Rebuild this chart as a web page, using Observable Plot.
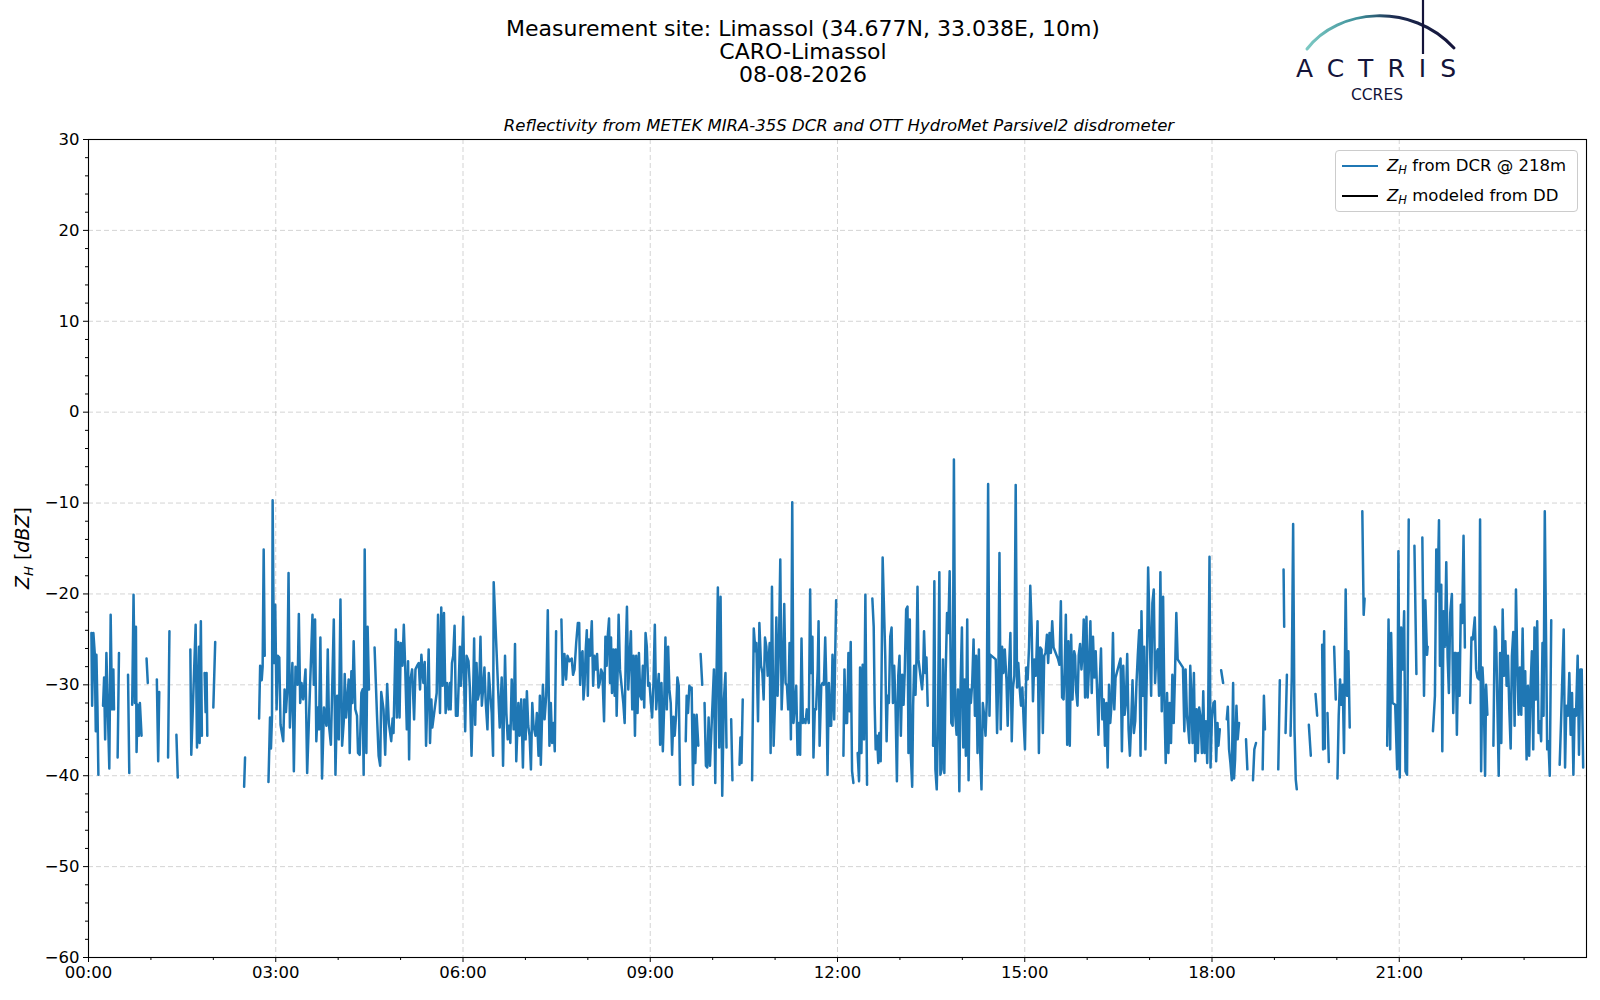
<!DOCTYPE html>
<html>
<head>
<meta charset="utf-8">
<script src="https://cdn.jsdelivr.net/npm/d3@7"></script>
<script src="https://cdn.jsdelivr.net/npm/@observablehq/plot@0.6"></script>
<style>
  html, body { margin: 0; padding: 0; background: #fff; }
  #page { position: relative; width: 1600px; height: 1000px; overflow: hidden; font-family: "DejaVu Sans", sans-serif; color: #000; }
  #header { position: relative; width: 1600px; height: 134px; }
  .tline { position: absolute; left: 0; width: 1606px; text-align: center; font-size: 22px; line-height: 22px; white-space: nowrap; }
  #subtitle { position: absolute; left: 0; width: 1678px; top: 117px; text-align: center; font-size: 16.5px; line-height: 18px; font-style: italic; white-space: nowrap; }
  #ylabel { position: absolute; left: 23px; top: 548px; transform: translate(-50%, -50%) rotate(-90deg); font-size: 19px; white-space: nowrap; }
  #ylabel sub { font-size: 13px; vertical-align: -4px; }
  #legend { position: absolute; left: 1335px; top: 150px; width: 243px; height: 62px; box-sizing: border-box; border: 1px solid #cccccc; border-radius: 4px; background: rgba(255,255,255,0.85); font-size: 16.5px; }
  .lrow { position: absolute; left: 0; height: 20px; white-space: nowrap; }
  .lrow .sw { position: absolute; left: 6px; top: 9px; width: 36px; height: 2.4px; }
  .lrow .lt { position: absolute; left: 51px; top: 0; line-height: 20px; }
  .lrow sub { font-size: 11.5px; vertical-align: -3px; }
  #logo { position: absolute; left: 1290px; top: 0; }
</style>
</head>
<body>
<div id="page">
  <div id="header"></div>
  <div id="chart"></div>
</div>
<script>
// ---------------- data ----------------
const titleLines = ["Measurement site: Limassol (34.677N, 33.038E, 10m)", "CARO-Limassol", "08-08-2026"];
const subtitle = "Reflectivity from METEK MIRA-35S DCR and OTT HydroMet Parsivel2 disdrometer";
const legendLabels = ["from DCR @ 218m", "modeled from DD"];
const seriesColors = ["#1f77b4", "#000000"];
const yTicks = [-60, -50, -40, -30, -20, -10, 0, 10, 20, 30];
const yMinorTicks = [-58,-56,-54,-52,-48,-46,-44,-42,-38,-36,-34,-32,-28,-26,-24,-22,-18,-16,-14,-12,-8,-6,-4,-2,2,4,6,8,12,14,16,18,22,24,26,28];
const xTickHours = [0, 3, 6, 9, 12, 15, 18, 21];
const xMinorHours = [1, 2, 4, 5, 7, 8, 10, 11, 13, 14, 16, 17, 19, 20, 22, 23];
const dayStart = Date.UTC(2026, 7, 8);

// Z_H from DCR @ 218m : [minutes after 00:00 UTC, dBZ]; null marks a gap
const zhDcr = [
  [2.8,-24.3],[3.5,-32.3],[4.7,-24.3],[6,-26.5],[7,-35.1],[7.6,-26.7],[8.6,-32.3],[9.5,-39.9],null,
  [14,-32.3],[15,-29.2],[16,-36],[17.2,-26.5],[20,-39.2],[21.3,-22.3],[22.6,-32.7],[23.9,-28.3],[24.5,-32.7],null,
  [28,-38],[29.3,-26.5],null,
  [38,-28.9],[39.2,-39.7],null,
  [42,-32.2],[43.3,-20.1],[44.6,-32],[45.6,-23.6],[46.2,-37.4],[47.2,-32.2],[48.4,-35.6],[49.4,-32],[51,-35.6],null,
  [55.8,-27.1],[57,-29.8],null,
  [65.7,-29.4],[67,-38.4],[68,-30.8],null,
  [76.5,-38],[77.8,-24.1],null,
  [84.5,-35.5],[85.8,-40.2],null,
  [97.9,-26.1],[98.8,-37.7],[103,-23.4],[104.3,-36.9],[106.2,-25.8],[106.8,-36.4],[108,-23],[109,-35.6],null,
  [111.6,-28.7],[112.6,-33],[113.5,-28.7],[114.2,-35.6],null,
  [120,-32.5],[121.8,-25.3],null,
  [149.6,-41.2],[150.5,-38],null,
  [164,-33.7],[165,-27.9],[166.5,-29.5],[167.4,-28],[168.4,-15.1],[169.4,-26.8],null,
  [173,-40.7],[174.5,-33.6],[175.4,-37],[176.4,-33.5],[177,-9.7],[178.3,-27.6],[179.5,-21.2],[180.8,-32.7],[182,-26.8],[183.4,-27],
  [184.6,-34.4],[187.2,-36.2],[188.5,-30.5],[189.8,-33],[191,-30.7],[192.3,-17.7],[193.6,-34.7],[196,-27.6],[197.4,-39.5],[199,-28],
  [201,-30],[202.2,-22.2],[203.5,-32],[204.8,-29.8],[206.4,-31.6],[208.6,-28.3],[210.2,-39.7],[215.3,-22.3],[216.6,-30],[217.8,-22.8],
  [219,-36.2],[220.4,-32.5],[221.6,-34.9],[222.9,-24.8],[224.5,-40.3],[226.4,-32.5],[228.7,-34.5],[230,-26.1],[231.2,-34.5],[233,-36.6],
  [235.8,-22.8],[237.4,-39.9],[239,-31.2],[240.6,-36],[242.2,-20.6],[243.8,-36.7],[245.4,-34],[246.3,-28.8],[247.6,-33.6],[250.1,-29.4],
  [251.1,-37.5],[252.7,-28.5],[253.7,-32],[254.9,-25.2],[256.5,-32.7],[258.1,-33.4],[259.1,-37.5],[260.7,-37.7],[262.3,-30.9],[263.5,-30.5],
  [264.5,-39.9],[265.5,-15.1],[267.1,-37.5],[268.3,-23.6],[269.6,-30.5],null,
  [275,-25.9],[277.3,-33.3],[278.9,-37.8],[280.4,-38.9],[281.4,-30.8],[283.6,-32.7],[285.2,-37.7],[287.1,-29.9],[288.7,-34.2],[291,-36.2],
  [292.3,-33.7],[293.2,-35.3],[295.4,-23.9],[296.4,-33.6],[297.7,-25.3],[299,-33.6],[300.2,-25.4],[301.8,-27.9],[303.1,-23.4],[304.4,-27.9],
  [306,-34.9],[307.2,-27.4],[308.2,-38.2],[309.2,-29.6],[311.1,-28.3],[313,-33.8],[314.3,-28.3],[315.9,-27.9],[317.5,-27.6],[318.7,-30.5],
  [320,-26.7],[321.9,-29.8],[323.2,-27.5],[324.5,-36.7],[325.7,-31.6],[327,-26.1],[328.3,-36.4],[329.6,-31.6],[330.5,-34.7],[334.7,-30.9],
  [336,-22.3],[337.9,-33.1],[339.1,-21.5],[340.4,-30.1],[341.7,-22.1],[343.3,-33.1],[344.6,-29.8],[346.2,-32.7],[347.4,-29.8],[348.1,-32.7],
  [349.4,-27.6],[350.6,-26.8],[351.9,-23.5],[353.2,-33.4],[354.8,-33.4],[356.1,-29],[357,-25.8],[358,-30.1],[358.9,-27.8],[360.2,-22.5],
  [361.2,-30.1],[362.1,-35.1],[363.4,-26.8],[365.3,-27.4],[366.6,-30.3],[368.2,-37.8],[369.8,-30.5],[370.7,-24.9],[371.7,-34.4],[373,-27.6],
  [374.2,-31.6],[375.5,-30.9],[376.8,-24.7],[378.1,-32.3],[379.3,-30.5],[380.6,-28.1],[381.9,-32],[383.5,-34.9],[384.8,-28.7],[386.4,-31.2],
  [387.6,-33.1],[388.9,-37.8],[389.5,-18.7],[395.3,-34.7],[397.2,-29.2],[398.5,-38.9],[400.4,-26.8],[401.7,-33.1],[403,-36],[404.2,-34.5],
  [405.5,-36.4],[406.8,-29.4],[408.7,-34.9],[410,-25.5],[411.2,-38.4],[413.2,-32],[414.4,-35.6],[416,-31.6],[417.6,-39.1],[418.9,-31.6],
  [420.2,-36],[421.4,-30.7],[422.7,-34.5],[424,-35.6],[425.3,-39.3],[426.6,-32],[427.8,-34.5],[429.7,-35.6],[431,-33.1],[432.6,-37.8],
  [433.9,-31.2],[434.8,-38.8],[436.8,-30],[438.4,-33.8],[440,-31.2],[441.5,-21.8],[443.1,-36.7],[444.4,-32],[445.7,-36.4],[447,-34.2],
  [448.2,-37.3],[449.5,-24.1],null,
  [454.6,-22.8],[455.9,-30],[457.5,-26.6],[459.1,-29.4],[460.4,-26.8],[462.3,-27.4],[464.5,-27.1],[465.8,-28.9],
  [467.2,-28.3],[468.8,-25.4],[470.4,-23.2],[471.7,-23.2],[472.6,-30],[473.6,-26.8],[474.9,-26.3],[475.8,-31.6],[476.8,-30.1],[478,-26.1],
  [479,-24],[480,-31.2],[480.9,-25],[482.2,-26.8],[483.8,-23],[485.1,-30.1],[486.3,-26.8],[487.6,-28.3],[488.9,-26.6],[490.2,-30.3],
  [491.4,-29.8],[492.7,-28.3],[494,-28.7],[495.6,-34],[496.9,-24.7],[498.1,-27.9],[499.1,-24.7],[500.4,-22.7],[501.3,-29.8],[502.3,-24.8],
  [503.2,-30.9],[504.5,-26.1],[505.8,-31.2],[506.8,-26.1],[507.7,-33.4],[508.7,-28.3],[509.6,-22.3],[510.9,-28.3],[514.1,-32],[515.4,-34.2],
  [516.6,-25.8],[517.6,-21.4],[518.9,-30.5],[520.2,-26.8],[521.4,-24.1],[522.7,-32.7],[524,-26.8],[525.3,-35.6],[526.5,-26.8],[527.8,-33.1],
  [529.1,-26.5],[530.4,-31.2],[531.6,-31.6],[532.9,-27.9],[534.2,-32.5],[535.5,-24.3],[536.7,-25.8],[538,-30.1],[539.3,-29.8],[540.6,-32],
  [541.8,-33.6],[543.1,-29.8],[544.4,-23.4],[545.7,-32.7],[547,-30.5],[548.2,-28.8],[549.5,-36.6],[550.8,-29.8],[552.1,-37.3],[553.3,-32.7],
  [554.6,-24.8],[555.9,-32.7],[557.2,-25.8],[558.4,-30.5],[559.7,-32],[561,-37.7],[562.3,-33.5],[563.5,-35.6],[564.8,-33.4],[566.1,-29.2],
  [567.4,-30.1],[568.6,-41],null,
  [574.1,-36.2],[575,-31.2],[576.3,-33.1],[577.6,-30.1],[578.9,-30.5],[579.8,-30.3],[581.1,-41],[582,-33.3],[583.3,-38.6],[584.6,-33.3],[586.2,-36.7],null,
  [588.4,-26.6],[590,-30],null,
  [592.2,-32],[593.5,-38.9],[594.8,-39.1],[596.1,-33.6],[597.4,-38.9],[601.2,-28.3],[602.5,-40.8],[603.7,-29],[605,-19.3],[606.3,-36.9],
  [607.6,-20.3],[609.2,-42.2],[610.8,-31.6],[612.3,-28.7],[613.3,-36.9],null,
  [617.8,-33.8],[619,-40.5],null,
  [625.8,-38.8],[626.7,-35.8],[627.7,-38.6],[628.9,-31.6],null,
  [637.9,-40.5],[639.5,-23.8],[641.1,-26.3],[642,-25.4],[643.6,-34],[644.9,-23.2],[646.5,-27.9],[647.8,-28.7],[649,-31.6],[650.3,-24.8],
  [651.6,-25.8],[652.9,-29],[654.8,-25.4],[655.7,-37.5],[657,-19.2],[658.6,-36.7],[659.9,-32],[661.2,-22.6],[662.4,-31.2],[663.7,-25.8],
  [665,-16.2],[666.3,-32.7],[667.5,-29],[668.8,-21.1],[670.1,-29.8],[671.4,-30.1],[672.6,-32.7],[673.9,-25.4],[675.2,-36],[676.5,-9.9],
  [677.7,-34.2],[679,-32.3],[680.3,-30.1],[681.6,-37.7],[682.8,-34.2],[684.1,-37.7],[685.4,-24.9],[686.7,-34.2],[688,-33.8],[689.2,-34.2],
  [690.5,-32.7],[692.4,-34.2],[693.7,-19.5],[694.6,-28.7],[695.9,-24.7],[696.9,-38],[698.2,-32.7],[699.4,-32.7],[701,-28.3],
  [701.8,-23],[702.8,-36.7],[704.4,-30.1],[705.6,-29.8],[706.9,-30],[708.2,-24.8],[709.5,-30.9],[710.4,-39.9],[711.7,-29.8],[713,-34.5],
  [713.9,-34.5],[715.2,-26.7],[716.8,-33.8],[717.8,-26.7],[718.7,-20.7],null,
  [725.7,-37.8],[726.7,-28.3],[728,-34.2],[729.2,-34.2],[730.5,-26.5],[731.5,-32.9],[732.7,-25.3],[734,-39.5],[735.3,-40.8],null,
  [739.4,-37.5],[740.7,-40.6],[741.7,-28.1],[743,-37.5],[744.2,-27.8],[745.5,-36],[746.8,-20.1],[748.4,-41],null,
  [753.5,-20.5],[754.8,-23.6],[755.7,-32],[756.7,-37.1],[758,-35.6],[759.2,-38.6],[760.2,-35.3],[761.5,-38.4],[762.4,-28.3],[763.4,-16],
  [765.9,-26.8],[767.2,-36.2],[768.2,-31.2],[769.4,-32],[770.7,-24.7],[772,-23.7],[773.3,-32],[774.5,-27.9],[775.8,-32.3],[777.1,-40.6],
  [778.4,-29],[779.6,-26.8],[780.9,-35.6],[782.2,-28.9],[783.5,-32.2],[784.7,-28.3],[786,-21.7],[787.3,-21.4],[788.2,-37.5],[789.5,-22.8],
  [790.5,-37.7],[791.8,-41.2],[792.7,-32.3],[793.7,-27.9],[795,-31.1],[795.9,-27.2],[796.9,-19.2],[797.8,-27.2],[801.3,-30.5],[802.3,-28.7],
  [803.2,-24.1],[804.5,-28.7],[805.5,-27],[806.7,-32.3],null,
  [811.9,-36.7],[813.1,-18.6],[814.1,-39.3],[815.4,-41.5],[816.6,-34.2],[817.9,-17.6],[818.9,-39.9],[820.1,-39.3],[821.4,-27.2],[822.7,-39.7],
  [824,-28.7],[825.3,-22.1],[826.5,-24.3],[827.8,-17.5],[829.4,-34.2],[830.7,-34.5],[831.9,-5.2],[833.2,-33.4],[834.5,-35.5],[835.8,-30.5],
  [837.1,-41.7],[838.3,-30.1],[839.6,-23.7],[840.9,-36.9],[842.2,-29.4],[843.4,-37.8],[844.7,-22.8],[846,-40.5],[847,-30.5],[848.2,-32],
  [849.5,-29.8],[850.8,-25],[852.1,-33.4],[853.3,-26.8],[854.6,-37.5],[855.9,-26.1],[857.2,-37.5],[858.4,-41.5],[859.7,-32],[861,-33.4],
  [862.3,-35.6],[863.5,-31.8],[864.8,-7.9],[866.1,-33.4],[867,-26.7],[872.1,-27.2],[873.4,-35.3],[874.7,-28.3],[875.7,-15.5],[876.9,-34.9],
  [878.2,-25.8],[879.5,-28.7],[880.8,-26.1],[882.4,-29.4],[883.6,-34.5],[884.9,-28.3],[886.2,-24.3],[887.5,-36.2],[888.7,-30.3],[890,-29],
  [891.3,-8],[892.6,-30.3],[893.8,-27.6],[895.1,-30.3],[896.4,-32.3],[897.7,-30.3],[899,-34.2],[900.2,-37.1],[901.5,-28.1],[902.8,-29.4],
  [904.1,-25.9],[905.3,-19.1],[906.6,-23.6],[907.9,-31.8],[909.2,-27.2],[910.7,-29],[912.3,-23],[913.6,-37.5],[914.9,-25.9],[916.2,-26.1],
  [917.4,-35.3],[918.7,-26.8],[920,-26.5],[921.3,-24.5],[922.5,-27.6],[923.8,-24.3],[925.1,-26.5],[926.4,-23],[927.7,-25.9],[932.1,-27.2],
  [933.4,-27.8],[934.7,-20.8],[935.9,-31.4],
  [937.3,-31.6],[938.5,-27.6],[939.5,-22.3],[940.8,-36.6],[942,-25.2],[943.3,-36.7],[944.6,-24.5],[945.9,-31.6],[947.5,-26.3],[948.4,-26.8],
  [949.4,-30.7],[950.7,-32.3],[951.9,-26.7],[953.2,-25.5],[954.5,-28.3],[955.8,-26.1],[956.7,-22.8],[958,-31.4],[959.3,-22.5],[960.5,-31.4],
  [961.8,-27.9],[963.1,-23],[964.4,-30.9],[965.6,-24.7],[966.9,-29.2],[968.2,-26.3],[969.5,-30.5],[970.8,-35.5],[972,-30.1],[973.3,-26],
  [974.6,-33.8],[975.9,-31.6],[977.1,-36.7],[978.4,-32],[979.7,-39.1],[981,-30],[982.2,-34.2],[983.5,-32],[984.8,-24.3],[986.1,-32.7],
  [987.3,-29.2],[992.1,-27.1],[993.4,-37.3],[994.7,-27.9],[996,-33.3],[997.2,-32],[998.5,-26.6],[999.8,-34.9],[1001.1,-37.8],[1002.3,-34.2],
  [1003.6,-29.5],[1004.9,-35.3],[1006.2,-34],[1007.4,-29.8],[1008.7,-26.7],[1010,-24],[1011.3,-37.8],[1012.2,-21.9],[1013.5,-31.2],[1014.8,-25.8],
  [1016,-37.1],[1017.3,-29],[1018.6,-17.1],[1020.2,-24.7],[1021.5,-31.2],[1022.7,-21],[1024,-19.5],[1025.3,-29.8],[1026.6,-26.5],[1027.9,-26.1],
  [1029.1,-31.2],[1030.4,-17.6],[1031.7,-32.9],[1033,-20.3],[1034.2,-31.6],[1035.5,-38.6],[1036.8,-30.9],[1038.1,-37.5],[1039.3,-32],[1040.6,-36.4],
  [1041.9,-28.9],[1043.2,-34.2],[1044.4,-29],[1045.7,-22.1],[1047,-27.2],[1052.1,-28.1],[1053.4,-35.1],[1054.6,-28.3],[1055.9,-33.3],[1057.2,-34.9],
  [1058.2,-36.4],[1059.1,-27.9],[1060.4,-32],[1061.3,-36.4],[1062.6,-28.7],[1063.9,-38.4],[1065.2,-32.7],[1066.5,-37.5],[1067.7,-32.5],[1069,-33.6],
  [1070.3,-37.5],[1071.6,-30.7],[1072.8,-37.5],[1074.1,-34],[1075.4,-38.6],[1076.3,-33.4],[1077.6,-15.9],[1078.6,-39.1],[1079.9,-33.8],[1081.4,-32],
  [1082.7,-31.8],[1084,-38.4],[1085.3,-34.2],[1086.2,-36.7],[1087.5,-34.9],null,
  [1088.8,-28.4],[1090.7,-29.8],null,
  [1094.2,-33.8],[1095.2,-32.4],[1096.4,-37.1],[1097.7,-38.6],[1099,-40.5],[1100.3,-29.8],[1101.2,-40.3],[1102.2,-38.2],[1103.5,-32.3],[1104.7,-36],[1106,-34.2],null,
  [1112.7,-36],[1114,-39.3],null,
  [1119.4,-40.5],[1120.7,-37.1],[1122.3,-36.4],null,
  [1128.7,-39.3],[1129.9,-31.2],[1130.9,-34.9],null,
  [1143.7,-39.3],[1145.2,-29.5],null,
  [1148.8,-17.3],[1149.4,-23.6],null,
  [1150.7,-35.3],[1152,-28.9],null,
  [1155.5,-35.6],[1156.7,-29],[1158,-12.3],[1159.3,-34.9],[1160.5,-40.4],[1161.5,-41.5],null,
  [1173.1,-34.4],[1175,-37.8],null,
  [1179.5,-31],[1181.1,-33.4],null,
  [1185.9,-25.6],[1186.8,-37.1],[1187.8,-24.1],[1188.5,-37],null,
  [1191,-33.1],[1192.3,-38.5],null,
  [1197.4,-25.8],[1199,-31.6],null,
  [1200.6,-40.3],[1201.8,-33.4],[1203.1,-29.4],[1204.4,-32.2],[1205.7,-30],[1206.9,-37.5],[1208.5,-19.5],[1209.8,-31.2],[1211.1,-26.3],[1212.4,-34.7],null,
  [1224.5,-10.9],[1225.8,-22.3],[1226.7,-20.5],null,
  [1248.4,-36.7],[1249.7,-22.8],[1251.3,-37.1],[1252.2,-24.3],[1253.5,-32],[1256.1,-32.2],[1258,-39.3],[1259.2,-15.3],[1260.5,-40.2],[1261.8,-23.7],
  [1263.1,-28.3],[1264.7,-21.9],[1266,-39.5],[1267.5,-39.9],[1269.1,-11.8],null,
  [1274.6,-14.7],[1276.5,-28.8],null,
  [1282.2,-13.8],[1283.8,-31.2],[1285.1,-20.7],[1286.7,-26.7],[1287.3,-25.8],null,
  [1292.4,-35.1],[1294.3,-31.2],[1295.6,-15.1],[1296.9,-19.7],[1298.2,-11.9],[1299.1,-27.9],[1300.4,-19],[1301.4,-37.3],[1302.6,-21.9],[1303.9,-25.8],
  [1305.2,-16.5],[1306.5,-27],[1307.7,-30.9],[1309,-22.1],[1310.6,-20],[1311.9,-33.1],[1313.2,-26.5],[1314.4,-26.5],[1315.4,-35.5],[1316.7,-26.5],
  [1318,-31.2],[1319.2,-21.2],[1320.5,-23.2],[1321.8,-13.6],[1323.1,-25.9],null,
  [1328.2,-32],[1329.4,-24.8],[1330.7,-25],[1332.6,-22.6],[1333.9,-28.3],[1335.2,-29.2],[1336.8,-29.4],[1337.7,-11.8],[1338.7,-39.5],[1340,-28.1],
  [1341.2,-30.9],[1342.5,-40],[1343.5,-30],[1344.7,-33.3],null,
  [1350.5,-36.7],[1351.8,-23.6],[1353,-24],[1355.6,-40],[1356.9,-26.5],[1358.1,-36.4],[1359.4,-21.7],[1360.7,-29],[1362,-25.2],[1363.2,-30.1],
  [1364.5,-26.8],[1365.8,-32.7],[1367.1,-37],[1368.3,-26.8],[1369.6,-24.2],[1370.9,-34.5],[1372.2,-19.5],[1373.5,-27.6],[1374.7,-33.3],[1376,-28.1],
  [1377.3,-33.3],[1378.6,-23.8],[1379.8,-32.3],[1381.1,-28.5],[1382.4,-38.2],[1383.7,-30.1],[1384.9,-37.8],[1386.2,-30.3],[1387.5,-26.3],[1388.8,-37.1],
  [1390,-23.7],[1391.3,-31.6],[1392.6,-23],[1393.9,-35.3],[1395.1,-34],[1396.4,-36.2],[1397.7,-25.4],[1398.7,-33.4],[1399.9,-10.9],[1402.2,-37.1],
  [1403.4,-36.2],[1404.7,-40],[1406.1,-22.9],null,
  [1414.2,-38.8],[1415.5,-34.2],[1418.1,-23.9],[1419.4,-39.1],[1420.6,-32.3],[1422.2,-33.4],[1423.5,-28.7],[1424.8,-35.5],[1426.1,-30.9],[1427.4,-39.9],
  [1428.6,-32.7],[1429.9,-33.4],[1431.5,-26.8],[1432.8,-37.7],[1434.1,-28.3],[1435.4,-28.3],[1436.8,-39.1]
];
// Z_H modeled from disdrometer: no data on this day
const zhDd = [];

// ---------------- build ----------------
const toDate = m => new Date(dayStart + m * 60000);
const rowsDcr = [];
let lastMin = 0;
for (const p of zhDcr) {
  if (p === null) rowsDcr.push({time: toDate(lastMin + 0.05), zh: NaN});
  else { lastMin = p[0]; rowsDcr.push({time: toDate(p[0]), zh: p[1]}); }
}
const rowsDd = zhDd.map(p => ({time: toDate(p[0]), zh: p[1]}));

const header = document.getElementById("header");
const tops = [18, 41, 64];
titleLines.forEach((t, i) => {
  const d = document.createElement("div");
  d.className = "tline"; d.style.top = tops[i] + "px"; d.textContent = t;
  header.appendChild(d);
});
const st = document.createElement("div");
st.id = "subtitle"; st.textContent = subtitle; header.appendChild(st);

const hourTicks = h => h.map(x => toDate(x * 60));
const gridStyle = {stroke: "#b0b0b0", strokeOpacity: 0.55, strokeDasharray: "5,3", strokeWidth: 1};

const plot = Plot.plot({
  width: 1600, height: 866,
  marginTop: 5, marginBottom: 43, marginLeft: 88, marginRight: 14,
  style: {fontFamily: '"DejaVu Sans", sans-serif', fontSize: "16.5px", color: "#000", background: "#fff", overflow: "visible"},
  x: {type: "utc", domain: [toDate(0), toDate(1440)], label: null},
  y: {domain: [-60, 30], label: null},
  marks: [
    Plot.gridY(yTicks.filter(v => v > -60 && v < 30), gridStyle),
    Plot.gridX(hourTicks(xTickHours.filter(h => h > 0)), gridStyle),
    Plot.line(rowsDd, {x: "time", y: "zh", stroke: seriesColors[1], strokeWidth: 2.5}),
    Plot.line(rowsDcr, {x: "time", y: "zh", stroke: seriesColors[0], strokeWidth: 2.5, strokeLinejoin: "round", strokeLinecap: "round"}),
    Plot.axisY(yTicks, {tickSize: 5, tickPadding: 4, tickFormat: d => d3.format("d")(d).replace("-", "\u2212"), fontSize: 16.5, stroke: "#000"}),
    Plot.axisY(yMinorTicks, {tickSize: 3, tickFormat: () => "", stroke: "#000"}),
    Plot.axisX(hourTicks(xTickHours), {tickSize: 5, tickPadding: 4, tickFormat: d3.utcFormat("%H:%M"), fontSize: 16.5, stroke: "#000"}),
    Plot.axisX(hourTicks(xMinorHours), {tickSize: 3, tickFormat: () => "", stroke: "#000"}),
    Plot.frame({stroke: "#000", strokeWidth: 1.1})
  ]
});
document.getElementById("chart").appendChild(plot);

const page = document.getElementById("page");
// y label
const yl = document.createElement("div");
yl.id = "ylabel";
yl.innerHTML = "<i>Z</i><sub><i>H</i></sub> [<i>dBZ</i>]";
page.appendChild(yl);

// legend
const lg = document.createElement("div");
lg.id = "legend";
legendLabels.forEach((lab, i) => {
  const r = document.createElement("div");
  r.className = "lrow"; r.style.top = (5 + i * 30) + "px";
  r.innerHTML = `<span class="sw" style="background:${seriesColors[i]}"></span><span class="lt"><i>Z</i><sub><i>H</i></sub> ${lab}</span>`;
  lg.appendChild(r);
});
page.appendChild(lg);

// ACTRIS logo
const ns = "http://www.w3.org/2000/svg";
const logo = document.createElementNS(ns, "svg");
logo.setAttribute("id", "logo");
logo.setAttribute("width", 185); logo.setAttribute("height", 108);
logo.innerHTML = `
  <defs><linearGradient id="arcg" x1="0" x2="1" y1="0" y2="0">
    <stop offset="0" stop-color="#7cc9c3"/><stop offset="0.35" stop-color="#3d8f99"/><stop offset="0.6" stop-color="#1c2a4f"/><stop offset="1" stop-color="#14143a"/>
  </linearGradient></defs>
  <path d="M17,49 C48,8 122,2 164,48" fill="none" stroke="url(#arcg)" stroke-width="3" stroke-linecap="round"/>
  <line x1="133" y1="0" x2="133" y2="54" stroke="#14143a" stroke-width="2.2"/>
  <text x="6" y="77" textLength="160" lengthAdjust="spacing" font-family="'DejaVu Sans', sans-serif" font-weight="400" font-size="25" fill="#14143a">ACTRIS</text>
  <text x="87" y="100" text-anchor="middle" font-family="'DejaVu Sans', sans-serif" font-size="15.5" fill="#14143a">CCRES</text>`;
page.appendChild(logo);
</script>
</body>
</html>
